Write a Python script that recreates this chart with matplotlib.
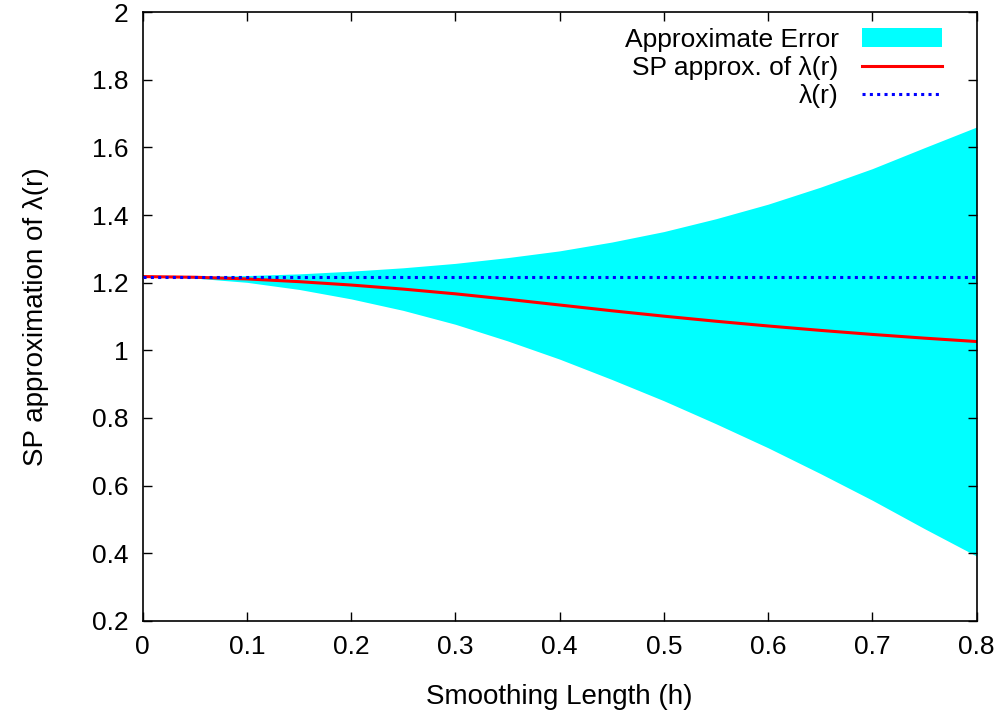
import numpy as np
import matplotlib
matplotlib.use("Agg")
import matplotlib.pyplot as plt
from matplotlib.patches import Patch
from matplotlib.lines import Line2D
from matplotlib.ticker import FuncFormatter

plt.rcParams['font.family'] = ['Liberation Sans', 'DejaVu Sans']

# Smoothing length values
h = [0.0, 0.05, 0.10, 0.15, 0.20, 0.25, 0.30, 0.35, 0.40,
     0.45, 0.50, 0.55, 0.60, 0.65, 0.70, 0.75, 0.80]

# SP approximation of lambda(r)
sp_approx = [1.218, 1.216, 1.211, 1.203, 1.193, 1.181, 1.167, 1.151, 1.134,
             1.117, 1.101, 1.086, 1.072, 1.059, 1.047, 1.036, 1.026]

# Approximate error band, lower and upper edge
err_lower = [1.218, 1.2135, 1.201, 1.180, 1.152, 1.118, 1.077, 1.028, 0.974,
             0.914, 0.851, 0.783, 0.712, 0.636, 0.557, 0.473, 0.392]
err_upper = [1.218, 1.2185, 1.221, 1.226, 1.234, 1.244, 1.257, 1.274, 1.294,
             1.320, 1.351, 1.389, 1.432, 1.482, 1.537, 1.599, 1.660]

# exact lambda(r), constant
lam_exact = 1.218

fig = plt.figure(figsize=(10.06, 7.15), dpi=100)
ax = fig.add_axes([0.1418, 0.1315, 0.8289, 0.8517])

ax.fill_between(h, err_lower, err_upper, color='#00ffff', linewidth=0, zorder=1)
ax.plot(h, sp_approx, color='#ff0000', lw=2.2, zorder=2)
ax.plot([h[0], h[-1]], [lam_exact, lam_exact], color='#0000ff', lw=2.2,
        linestyle=(0, (1, 1.4)), dash_capstyle='butt', zorder=3)

ax.set_xlim(0, 0.8)
ax.set_ylim(0.2, 2.0)
ax.set_xticks(np.arange(0, 0.81, 0.1))
ax.set_yticks(np.arange(0.2, 2.01, 0.2))
ax.xaxis.set_major_formatter(FuncFormatter(lambda v, p: f'{v:g}'))
ax.yaxis.set_major_formatter(FuncFormatter(lambda v, p: f'{round(v, 1):g}'))

ax.tick_params(direction='in', length=6.5, width=1.0, top=True, right=True,
               labelsize=19, pad=10, colors='black')
for s in ax.spines.values():
    s.set_linewidth(1.2)

ax.set_xlabel('Smoothing Length (h)', fontsize=20, labelpad=18)
ax.set_ylabel('SP approximation of λ(r)', fontsize=20, labelpad=31)

handles = [Patch(facecolor='#00ffff', edgecolor='none'),
           Line2D([], [], color='#ff0000', lw=2.2),
           Line2D([], [], color='#0000ff', lw=2.2, linestyle=(0, (1, 1.4)))]
labels = ['Approximate Error', 'SP approx. of λ(r)', 'λ(r)']
ax.legend(handles, labels, loc='upper right', frameon=False, markerfirst=False,
          fontsize=19, handlelength=3.0, handleheight=0.7, labelspacing=0.16,
          handletextpad=0.9, borderaxespad=0.2, bbox_to_anchor=(0.977, 1.0))

fig.savefig('out.png', dpi=100)
